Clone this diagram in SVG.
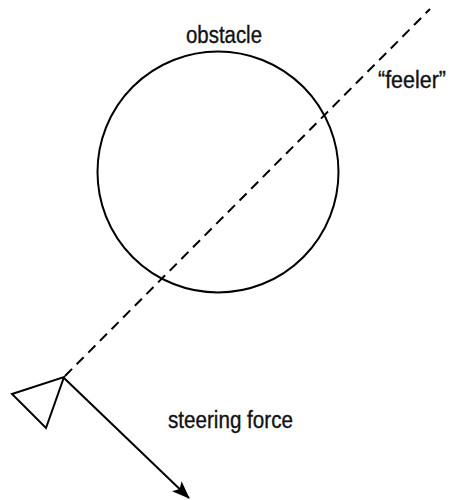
<svg xmlns="http://www.w3.org/2000/svg" width="451" height="500" viewBox="0 0 451 500">
<style>
.ln{fill:none;stroke:#000;stroke-width:2}
.t{font-family:"Liberation Sans",Arial,sans-serif;font-size:23.5px;fill:#111;stroke:#111;stroke-width:0.35}
</style>
<defs>
<marker id="ah" viewBox="0 0 18 14" refX="17" refY="7" markerWidth="18" markerHeight="14" markerUnits="userSpaceOnUse" orient="auto">
<path d="M0,0 L18,7 L0,14 L4,7 z" fill="#000"/>
</marker>
</defs>
<rect width="451" height="500" fill="#fff"/>
<g id="obstacle">
<circle class="ln" cx="218" cy="172" r="120.5"/>
<text class="t" x="186" y="43" textLength="76" lengthAdjust="spacingAndGlyphs">obstacle</text>
</g>
<g id="vehicle">
<polygon class="ln" points="12,394 64,377 46,428" stroke-linejoin="miter"/>
</g>
<g id="labels">
<text class="t" x="378" y="88" textLength="68" lengthAdjust="spacingAndGlyphs">“feeler”</text>
<text class="t" x="168" y="428" textLength="125" lengthAdjust="spacingAndGlyphs">steering force</text>
</g>
<g id="connectors">
<line class="ln" x1="65" y1="376" x2="430" y2="9" stroke-dasharray="10,6.5"/>
<line class="ln" x1="64" y1="378" x2="189" y2="498" marker-end="url(#ah)"/>
</g>
</svg>
